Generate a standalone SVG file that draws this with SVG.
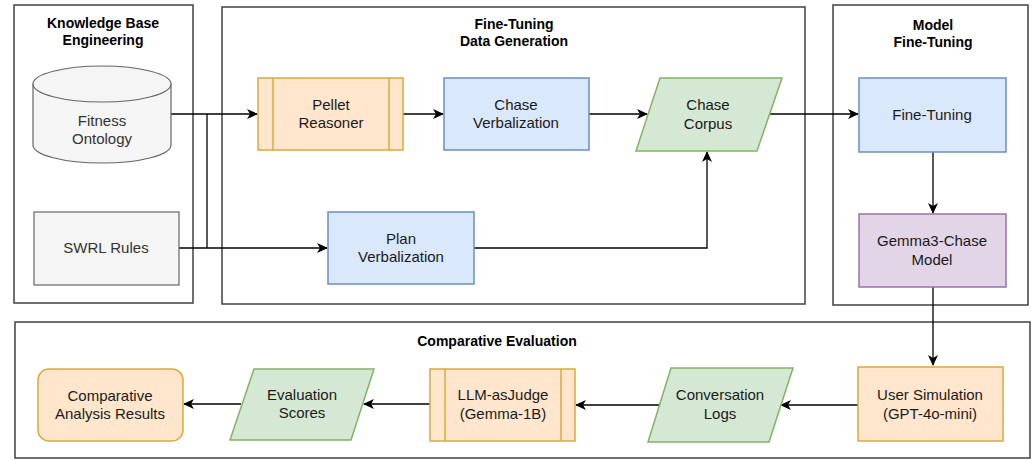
<svg xmlns="http://www.w3.org/2000/svg" width="1035" height="460" viewBox="0 0 1035 460">
<defs>
<marker id="arr" markerUnits="userSpaceOnUse" markerWidth="12" markerHeight="10" refX="10" refY="5" orient="auto">
<path d="M0,0 L11,5 L0,10 L3,5 Z" fill="#000"/>
</marker>
<style>
.cont{fill:#fff;stroke:#404040;stroke-width:1.5}
.title{font-family:"Liberation Sans",Arial,sans-serif;font-size:14px;font-weight:bold;fill:#000;text-anchor:middle}
.lbl{font-family:"Liberation Sans",Arial,sans-serif;font-size:15px;fill:#1a1a1a;text-anchor:middle}
.gray{fill:#f5f5f5;stroke:#666;stroke-width:1.2}
.grayt{fill:#333}
.orange{fill:#ffe6cc;stroke:#dcab3a;stroke-width:1.5}
.blue{fill:#dae8fc;stroke:#6c8ebf;stroke-width:1.5}
.green{fill:#d5e8d4;stroke:#82b366;stroke-width:1.5}
.purple{fill:#e1d5e7;stroke:#9673a6;stroke-width:1.5}
.edge{fill:none;stroke:#000;stroke-width:1.3}
</style>
</defs>
<rect width="1035" height="460" fill="#fff"/>

<g id="containers">
<g id="kb-container">
<rect class="cont" x="14" y="5" width="179" height="298"/>
<text class="title" x="103" y="28">Knowledge Base</text>
<text class="title" x="103" y="45">Engineering</text>
</g>
<g id="ftdg-container">
<rect class="cont" x="222" y="7" width="583" height="297"/>
<text class="title" x="514" y="29">Fine-Tuning</text>
<text class="title" x="514" y="46">Data Generation</text>
</g>
<g id="mft-container">
<rect class="cont" x="833" y="5" width="195" height="300"/>
<text class="title" x="933" y="30">Model</text>
<text class="title" x="933" y="47">Fine-Tuning</text>
</g>
<g id="ce-container">
<rect class="cont" x="15" y="322" width="1015" height="136"/>
<text class="title" x="497" y="346">Comparative Evaluation</text>
</g>
</g>

<g id="connectors">
<path class="edge" d="M171,114 H257" marker-end="url(#arr)"/>
<path class="edge" d="M179,248 H327" marker-end="url(#arr)"/>
<path class="edge" d="M207,114 V248"/>
<path class="edge" d="M403,114 H443" marker-end="url(#arr)"/>
<path class="edge" d="M589,114 H647" marker-end="url(#arr)"/>
<path class="edge" d="M770,114 H858" marker-end="url(#arr)"/>
<path class="edge" d="M474,248 H707 V152" marker-end="url(#arr)"/>
<path class="edge" d="M933,152 V213" marker-end="url(#arr)"/>
<path class="edge" d="M933,287 V365" marker-end="url(#arr)"/>
<path class="edge" d="M858,405 H781" marker-end="url(#arr)"/>
<path class="edge" d="M659,405 H576" marker-end="url(#arr)"/>
<path class="edge" d="M430,404 H364" marker-end="url(#arr)"/>
<path class="edge" d="M241,404 H184" marker-end="url(#arr)"/>
</g>

<g id="fitness-ontology">
<path class="gray" d="M33,84 A69,18 0 0 1 171,84 V145 A69,18 0 0 1 33,145 Z"/>
<path class="gray" d="M33,84 A69,18 0 0 0 171,84" fill="none"/>
<text class="lbl grayt" x="102" y="126">Fitness</text>
<text class="lbl grayt" x="102" y="144">Ontology</text>
</g>

<g id="swrl-rules">
<rect class="gray" x="34" y="212" width="145" height="73"/>
<text class="lbl grayt" x="106" y="253">SWRL Rules</text>
</g>

<g id="pellet-reasoner">
<rect class="orange" x="258" y="78" width="145" height="72"/>
<line class="orange" x1="273" y1="78" x2="273" y2="150"/>
<line class="orange" x1="389" y1="78" x2="389" y2="150"/>
<text class="lbl" x="331" y="110">Pellet</text>
<text class="lbl" x="331" y="128">Reasoner</text>
</g>

<g id="chase-verbalization">
<rect class="blue" x="444" y="78" width="145" height="72"/>
<text class="lbl" x="516" y="110">Chase</text>
<text class="lbl" x="516" y="128">Verbalization</text>
</g>

<g id="chase-corpus">
<polygon class="green" points="660,78 782,78 757,151 636,151"/>
<text class="lbl" x="708" y="110">Chase</text>
<text class="lbl" x="708" y="129">Corpus</text>
</g>

<g id="plan-verbalization">
<rect class="blue" x="328" y="212" width="146" height="72"/>
<text class="lbl" x="401" y="244">Plan</text>
<text class="lbl" x="401" y="262">Verbalization</text>
</g>

<g id="fine-tuning">
<rect class="blue" x="859" y="78" width="147" height="74"/>
<text class="lbl" x="932" y="120">Fine-Tuning</text>
</g>

<g id="gemma3-chase">
<rect class="purple" x="859" y="214" width="147" height="73"/>
<text class="lbl" x="932" y="246">Gemma3-Chase</text>
<text class="lbl" x="932" y="265">Model</text>
</g>

<g id="user-simulation">
<rect class="orange" x="858" y="367" width="145" height="74"/>
<text class="lbl" x="930" y="400">User Simulation</text>
<text class="lbl" x="930" y="419">(GPT-4o-mini)</text>
</g>

<g id="conversation-logs">
<polygon class="green" points="671,368 793,368 769,442 648,442"/>
<text class="lbl" x="720" y="400">Conversation</text>
<text class="lbl" x="720" y="419">Logs</text>
</g>

<g id="llm-judge">
<rect class="orange" x="430" y="369" width="145" height="72"/>
<line class="orange" x1="445" y1="369" x2="445" y2="441"/>
<line class="orange" x1="561" y1="369" x2="561" y2="441"/>
<text class="lbl" x="503" y="400">LLM-asJudge</text>
<text class="lbl" x="503" y="419">(Gemma-1B)</text>
</g>

<g id="evaluation-scores">
<polygon class="green" points="254,369 374,369 351,440 230,440"/>
<text class="lbl" x="302" y="400">Evaluation</text>
<text class="lbl" x="302" y="418">Scores</text>
</g>

<g id="comparative-analysis">
<rect class="orange" x="38" y="369" width="145" height="72" rx="11" ry="11"/>
<text class="lbl" x="110" y="401">Comparative</text>
<text class="lbl" x="110" y="419">Analysis Results</text>
</g>
</svg>
